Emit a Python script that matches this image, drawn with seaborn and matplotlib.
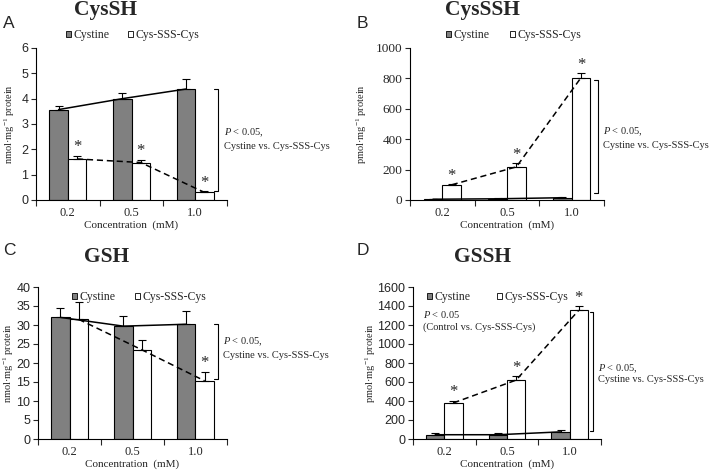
import numpy as np
import pandas as pd
import matplotlib
matplotlib.use("Agg")
import matplotlib.pyplot as plt
import seaborn as sns
from matplotlib.patches import Patch

sns.set_style("white")
plt.rcParams['font.family'] = ['Liberation Serif', 'DejaVu Serif']
plt.rcParams['mathtext.fontset'] = 'custom'
plt.rcParams['mathtext.rm'] = 'Liberation Serif'
plt.rcParams['mathtext.it'] = 'Liberation Serif:italic'

concentrations = ["0.2", "0.5", "1.0"]
groups = ["Cystine", "Cys-SSS-Cys"]

cyssh_cystine = [3.57, 4.00, 4.38]
cyssh_cystine_err = [0.15, 0.22, 0.40]
cyssh_sss = [1.62, 1.48, 0.30]
cyssh_sss_err = [0.12, 0.10, 0.05]

cysssh_cystine = [5, 8, 15]
cysssh_cystine_err = [3, 3, 8]
cysssh_sss = [100, 218, 805]
cysssh_sss_err = [5, 25, 30]

gsh_cystine = [32.0, 29.7, 30.2]
gsh_cystine_err = [2.5, 2.7, 3.6]
gsh_sss = [31.5, 23.5, 15.3]
gsh_sss_err = [4.5, 2.6, 2.4]

gssh_cystine = [45, 45, 75]
gssh_cystine_err = [15, 20, 20]
gssh_sss = [380, 620, 1355]
gssh_sss_err = [25, 40, 40]

GRAY = "#808080"
W = 709; H = 472
fig = plt.figure(figsize=(W / 100, H / 100), dpi=100)


def px_axes(l, r, t, b):
    return fig.add_axes([l / W, 1 - b / H, (r - l) / W, (b - t) / H])


def panel(ax, cys, cys_err, sss, sss_err, ymax, ystep, ylabel, star_flags,
          star_off, ylabel_x, ytick_font, ytick_size):
    df = pd.DataFrame({
        "conc": concentrations * 2,
        "group": [groups[0]] * 3 + [groups[1]] * 3,
        "value": list(cys) + list(sss),
    })
    sns.barplot(data=df, x="conc", y="value", hue="group", order=concentrations,
                hue_order=groups, palette=[GRAY, "white"], edgecolor="black",
                linewidth=0.8, width=0.58, gap=0, errorbar=None, legend=False,
                ax=ax, saturation=1)
    x = np.arange(3)
    bw = 0.58 / 2
    xc = x - bw / 2
    xs = x + bw / 2
    ax.errorbar(xc, cys, yerr=[np.zeros(3), cys_err], fmt="none", ecolor="black",
                elinewidth=0.8, capsize=3, capthick=0.8, zorder=5)
    ax.errorbar(xs, sss, yerr=[np.zeros(3), sss_err], fmt="none", ecolor="black",
                elinewidth=0.8, capsize=3, capthick=0.8, zorder=5)
    ax.plot(xc, cys, color="black", lw=1.1, ls="-", zorder=6)
    ax.plot(xs, sss, color="black", lw=1.1, ls=(0, (4, 2.5)), zorder=6)
    for i in range(3):
        if star_flags[i]:
            ax.text(xs[i], sss[i] + sss_err[i] + star_off, "*", ha="center",
                    va="bottom", fontsize=12)
    ax.set_xlim(-0.5, 2.5)
    ax.set_ylim(0, ymax)
    ticks = np.arange(0, ymax + ystep / 2, ystep)
    ax.set_yticks(ticks)
    ax.set_yticklabels([f"{int(v)}" for v in ticks], family=ytick_font,
                       fontsize=ytick_size)
    ax.set_xticks(x)
    ax.set_xticklabels(concentrations, fontsize=9)
    ax.set_xticks([-0.5, 0.5, 1.5, 2.5], minor=True)
    ax.tick_params(axis="x", which="major", length=0, pad=5)
    ax.tick_params(axis="x", which="minor", length=4, width=0.8, direction="out",
                   bottom=True)
    ax.tick_params(axis="y", length=3.5, width=0.8, direction="out", left=True,
                   pad=2)
    for s in ["top", "right"]:
        ax.spines[s].set_visible(False)
    for s in ["left", "bottom"]:
        ax.spines[s].set_color("black")
        ax.spines[s].set_linewidth(0.8)
    ax.set_xlabel("Concentration  (mM)", fontsize=8, labelpad=1)
    ax.set_ylabel(ylabel, fontsize=7.5)
    ax.yaxis.set_label_coords(ylabel_x, 0.5)


def bracket(ax, x, y0, y1, tick, tx, ty1, ty2, lines):
    ax.plot([x - tick, x, x, x - tick], [y1, y1, y0, y0], color="black",
            lw=0.8, clip_on=False)
    ax.text(tx, ty1, lines[0], fontsize=7.5, va="center", ha="left", clip_on=False)
    ax.text(tx, ty2, lines[1], fontsize=7.5, va="center", ha="left", clip_on=False)


def legend(ax, fx, fy, spacing):
    handles = [Patch(facecolor=GRAY, edgecolor="black", lw=0.6),
               Patch(facecolor="white", edgecolor="black", lw=0.6)]
    fig.legend(handles, groups, loc="center left", bbox_to_anchor=(fx / W, 1 - fy / H),
               ncol=2, frameon=False, fontsize=8.5, handlelength=0.4,
               handleheight=0.4, handletextpad=0.2, columnspacing=spacing,
               borderpad=0, borderaxespad=0)


# Panel A
axA = px_axes(36, 227, 48, 200)
panel(axA, cyssh_cystine, cyssh_cystine_err, cyssh_sss, cyssh_sss_err, 6, 1,
      "nmol·mg$^{-1}$ protein", [True, True, True], 0.02, -0.1,
      "Liberation Sans", 9)
bracket(axA, 2.36, 0.35, 4.38, 0.06, 2.45, 2.64, 2.13,
        ["$P$ < 0.05,", "Cystine vs. Cys-SSS-Cys"])
legend(axA, 66, 35, 1.6)

# Panel B
axB = px_axes(410, 604, 48, 200)
panel(axB, cysssh_cystine, cysssh_cystine_err, cysssh_sss, cysssh_sss_err, 1000, 200,
      "pmol·mg$^{-1}$ protein", [True, True, True], 3, -0.21,
      "Liberation Serif", 9.5)
bracket(axB, 2.41, 48, 790, 0.06, 2.48, 449, 357,
        ["$P$ < 0.05,", "Cystine vs. Cys-SSS-Cys"])
legend(axB, 446, 35, 1.8)

# Panel C
axC = px_axes(38, 227, 287, 439)
panel(axC, gsh_cystine, gsh_cystine_err, gsh_sss, gsh_sss_err, 40, 5,
      "nmol·mg$^{-1}$ protein", [False, False, True], 0.3, -0.115,
      "Liberation Sans", 9)
bracket(axC, 2.36, 15.7, 30.2, 0.06, 2.44, 25.7, 22.0,
        ["$P$ < 0.05,", "Cystine vs. Cys-SSS-Cys"])
legend(axC, 72, 297, 1.7)

# Panel D
axD = px_axes(413, 601, 287, 439)
panel(axD, gssh_cystine, gssh_cystine_err, gssh_sss, gssh_sss_err, 1600, 200,
      "pmol·mg$^{-1}$ protein", [True, True, True], 5, -0.185,
      "Liberation Sans", 9)
bracket(axD, 2.38, 84, 1337, 0.06, 2.45, 735, 622,
        ["$P$ < 0.05,", "Cystine vs. Cys-SSS-Cys"])
axD.text(-0.34, 1312, "$P$ < 0.05", fontsize=7.5, va="center", ha="left")
axD.text(-0.34, 1181, "(Control vs. Cys-SSS-Cys)", fontsize=7.5, va="center", ha="left")
legend(axD, 427, 297, 2.3)

# Titles and panel letters
fig.text(106 / W, 1 - 10 / H, "CysSH", fontsize=15.5, fontweight="bold", ha="center", va="center")
fig.text(482 / W, 1 - 10 / H, "CysSSH", fontsize=15.5, fontweight="bold", ha="center", va="center")
fig.text(107 / W, 1 - 257 / H, "GSH", fontsize=15.5, fontweight="bold", ha="center", va="center")
fig.text(482 / W, 1 - 257 / H, "GSSH", fontsize=15.5, fontweight="bold", ha="center", va="center")
for lbl, x, y in [("A", 3, 24), ("B", 357, 24), ("C", 3, 250), ("D", 357, 250)]:
    fig.text(x / W, 1 - y / H, lbl, fontsize=12.5, family="Liberation Sans",
             ha="left", va="center")

fig.savefig("out.png", dpi=100)
